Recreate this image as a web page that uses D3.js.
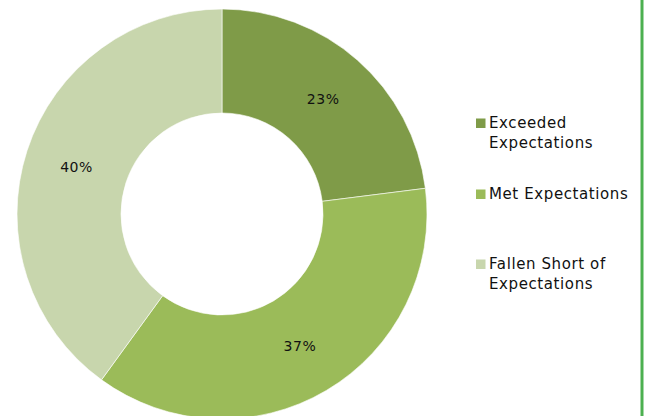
<!DOCTYPE html>
<html><head><meta charset="utf-8">
<script src="https://cdn.jsdelivr.net/npm/d3@7"></script>
<style>html,body{margin:0;padding:0;background:#fff;}svg{display:block;}</style>
</head><body>
<svg id="chart" width="648" height="416"></svg>
<script>
const categories = ["Exceeded Expectations", "Met Expectations", "Fallen Short of Expectations"];
const legendLines = [["Exceeded", "Expectations"], ["Met Expectations"], ["Fallen Short of", "Expectations"]];
const values = [23, 37, 40];
const labels = ["23%", "37%", "40%"];
const colors = ["#7f9b48", "#9bbb59", "#c8d6ad"];

const svg = d3.select("#chart");
const W = 648, H = 416;
const cx = 222, cy = 214, rOuter = 205, rInner = 101;
const font = "'Century Gothic', 'DejaVu Sans', sans-serif";

// right border line
svg.append("line").attr("x1", 642).attr("x2", 642).attr("y1", 0).attr("y2", H)
  .attr("stroke", "#4cb050").attr("stroke-width", 3);

const pie = d3.pie().sort(null).value(d => d);
const arcs = pie(values);
const arc = d3.arc().innerRadius(rInner).outerRadius(rOuter);
const g = svg.append("g").attr("transform", `translate(${cx},${cy})`);
g.selectAll("path").data(arcs).join("path")
  .attr("d", arc).attr("fill", (d, i) => colors[i])
  .attr("stroke", "#fff").attr("stroke-width", 0.6);

const labelArc = d3.arc().innerRadius(153).outerRadius(153);
g.selectAll("text.lbl").data(arcs).join("text")
  .attr("class", "lbl")
  .attr("transform", d => { const c = labelArc.centroid(d); return `translate(${c[0]},${c[1]})`; })
  .attr("text-anchor", "middle").attr("dy", "0.35em")
  .attr("font-family", font).attr("font-size", 14).attr("letter-spacing", 0.5).attr("fill", "#111")
  .text((d, i) => labels[i]);

// legend
const legY = [128, 199, 269];
const leg = svg.append("g");
categories.forEach((c, i) => {
  leg.append("rect").attr("x", 476).attr("y", legY[i] - 9.5).attr("width", 9.5).attr("height", 9.5).attr("fill", colors[i]);
  const t = leg.append("text").attr("x", 489).attr("y", legY[i])
    .attr("font-family", font).attr("font-size", 15).attr("letter-spacing", 0.6).attr("fill", "#111");
  legendLines[i].forEach((ln, j) => {
    t.append("tspan").attr("x", 489).attr("dy", j === 0 ? 0 : 20).text(ln);
  });
});
</script>
</body></html>
